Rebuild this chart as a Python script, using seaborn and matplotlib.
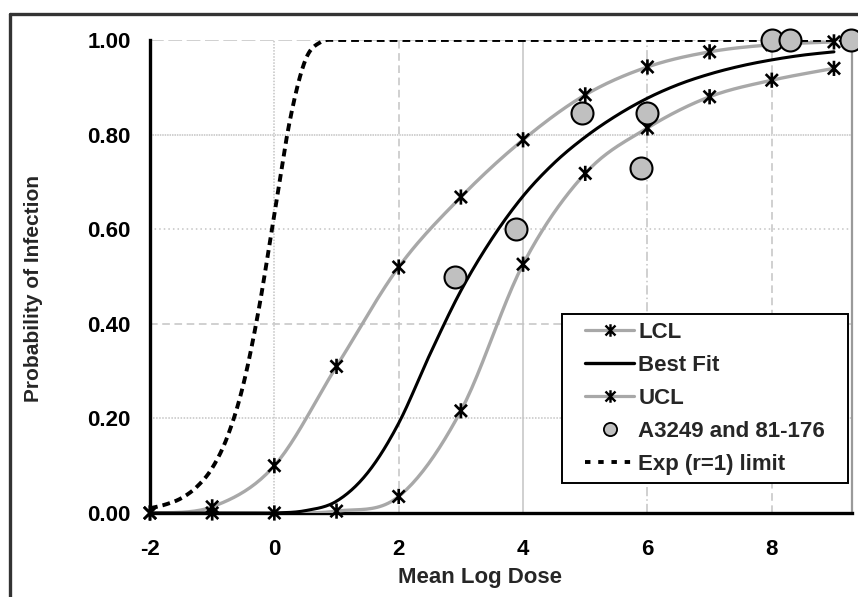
import numpy as np
import pandas as pd
import matplotlib
matplotlib.use("Agg")
import matplotlib.pyplot as plt
from matplotlib.path import Path
from matplotlib.lines import Line2D
from matplotlib.patches import Rectangle
from matplotlib.transforms import IdentityTransform
import seaborn as sns

# ---------------- data ----------------
dose_int = [-2, -1, 0, 1, 2, 3, 4, 5, 6, 7, 8, 9]
lcl_vals = [0.0, 0.013, 0.10, 0.31, 0.52, 0.668, 0.789, 0.884, 0.943, 0.975, 0.99, 0.996]
ucl_vals = [0.0, 0.0, 0.0, 0.004, 0.035, 0.216, 0.526, 0.718, 0.814, 0.880, 0.915, 0.940]

fit_x = [-2, -1.5, -1, -0.5, 0, 0.5, 1, 1.5, 2, 2.5, 3, 3.5, 4, 4.5, 5, 5.5, 6, 6.5, 7,
         7.5, 8, 8.5, 9]
fit_y = [0.0, 0.0, 0.0, 0.0, 0.0, 0.005, 0.025, 0.085, 0.19, 0.335, 0.47, 0.58, 0.67,
         0.74, 0.795, 0.84, 0.877, 0.906, 0.928, 0.945, 0.958, 0.968, 0.975]

exp_x = [-2, -1.75, -1.5, -1.25, -1, -0.75, -0.5, -0.25, 0, 0.25, 0.5, 0.75, 1.0]
exp_y = [0.01, 0.018, 0.031, 0.055, 0.095, 0.163, 0.271, 0.431, 0.632, 0.83, 0.958, 0.996, 1.0]
exp_flat_x = [1.0, 9.3]
exp_flat_y = [1.0, 1.0]

obs_x = [2.9, 3.88, 4.95, 5.9, 6.0, 8.0, 8.29, 9.27]
obs_y = [0.50, 0.60, 0.845, 0.729, 0.846, 1.0, 1.0, 1.0]

x_ticks = [-2, 0, 2, 4, 6, 8]
y_ticks = [0.0, 0.2, 0.4, 0.6, 0.8, 1.0]
y_tick_labels = ["0.00", "0.20", "0.40", "0.60", "0.80", "1.00"]

labels = ["LCL", "Best Fit", "UCL", "A3249 and 81-176", "Exp (r=1) limit"]
x_label = "Mean Log Dose"
y_label = "Probability of Infection"


def excel_smooth(x, y, n=24):
    """Render a polyline the way a spreadsheet 'smoothed line' does (Bezier through points)."""
    p = np.column_stack([x, y]).astype(float)
    out = [p[0]]
    for i in range(len(p) - 1):
        p0 = p[i - 1] if i > 0 else p[i]
        p1 = p[i]
        p2 = p[i + 1]
        p3 = p[i + 2] if i + 2 < len(p) else p[i + 1]
        c1 = p1 + (p2 - p0) / 6.0
        c2 = p2 - (p3 - p1) / 6.0
        t = np.linspace(0, 1, n)[1:, None]
        seg = ((1 - t) ** 3) * p1 + 3 * ((1 - t) ** 2) * t * c1 + 3 * (1 - t) * t ** 2 * c2 + t ** 3 * p2
        out.extend(seg)
    out = np.array(out)
    return out[:, 0], out[:, 1]


# ---------------- styling ----------------
sns.set_theme(style="white")
plt.rcParams["font.family"] = ["Liberation Sans", "DejaVu Sans"]
plt.rcParams["font.weight"] = "bold"

GRAY = "#a8a8a8"
GRID = "#c4c4c4"
FS = 16

star = Path([(-1, -1), (1, 1), (-1, 1), (1, -1), (0, -1.25), (0, 1.25)],
            [Path.MOVETO, Path.LINETO, Path.MOVETO, Path.LINETO, Path.MOVETO, Path.LINETO])

fig = plt.figure(figsize=(8.58, 5.97), dpi=100)
ax = fig.add_axes([150 / 858, 1 - 513 / 597, 702 / 858, 473 / 597])

# curves
for vals in (lcl_vals, ucl_vals):
    sx, sy = excel_smooth(dose_int, vals)
    sns.lineplot(x=sx, y=sy, ax=ax, color=GRAY, lw=2.4, sort=False, estimator=None, zorder=3)
sx, sy = excel_smooth(fit_x, fit_y)
sns.lineplot(x=sx, y=sy, ax=ax, color="black", lw=2.2, sort=False, estimator=None, zorder=4)
sx, sy = excel_smooth(exp_x, exp_y)
sx = np.concatenate([sx, exp_flat_x[1:]])
sy = np.concatenate([sy, exp_flat_y[1:]])
sns.lineplot(x=sx, y=sy, ax=ax, color="black", lw=2.8, sort=False, estimator=None,
             linestyle=(0, (2.0, 1.3)), zorder=4)

# star markers
for vals in (lcl_vals, ucl_vals):
    ax.scatter(dose_int, vals, marker=star, s=120, facecolors="none", edgecolors="black",
               linewidths=1.9, zorder=5, clip_on=False)

# observations
sns.scatterplot(x=obs_x, y=obs_y, ax=ax, s=250, color="#c0c0c0", edgecolor="black",
                linewidth=1.5, zorder=6, clip_on=False, legend=False)

ax.set_xlim(-2, 9.29)
ax.set_ylim(0, 1)
ax.set_xticks(x_ticks)
ax.set_xticklabels([str(v) for v in x_ticks])
ax.set_yticks(y_ticks)
ax.set_yticklabels(y_tick_labels)
ax.tick_params(axis="both", labelsize=FS, colors="black", direction="out", length=5, width=2)
ax.tick_params(axis="x", pad=13, length=6)
ax.tick_params(axis="y", pad=9)
for lab in ax.get_xticklabels() + ax.get_yticklabels():
    lab.set_fontweight("bold")

# grid with the mixed styles seen in the reference
ax.grid(True, color=GRID, lw=1.1)
x_styles = ["-", (0, (1, 1)), (0, (5, 3)), "-", (0, (6, 2, 1, 2)), (0, (5, 3))]
for gl, ls in zip(ax.get_xgridlines(), x_styles):
    gl.set_linestyle(ls)
y_styles = ["-", (0, (1, 1)), (0, (5, 3)), (0, (1, 2)), (0, (1, 0.6)), (0, (9, 3))]
for gl, ls in zip(ax.get_ygridlines(), y_styles):
    gl.set_linestyle(ls)
ax.set_axisbelow(True)

for side in ("left", "bottom"):
    ax.spines[side].set_color("black")
    ax.spines[side].set_linewidth(2.4)
ax.spines["right"].set_color("#9a9a9a")
ax.spines["right"].set_linewidth(1.6)
ax.spines["top"].set_visible(False)

ax.set_xlabel(x_label, fontsize=FS, fontweight="bold")
ax.set_ylabel(y_label, fontsize=15, fontweight="bold")
ax.xaxis.set_label_coords(0.47, -0.115)
ax.yaxis.set_label_coords(-0.152, 0.474)

# legend
handles = [
    Line2D([], [], color=GRAY, lw=2.3, marker=star, markersize=9, markeredgecolor="black",
           markeredgewidth=1.7),
    Line2D([], [], color="black", lw=2.4),
    Line2D([], [], color=GRAY, lw=2.3, marker=star, markersize=9, markeredgecolor="black",
           markeredgewidth=1.7),
    Line2D([], [], ls="none", marker="o", markersize=9.5, markerfacecolor="#c0c0c0",
           markeredgecolor="black", markeredgewidth=1.3),
    Line2D([], [], color="black", lw=2.8, linestyle=(0, (1.4, 2.0))),
]
leg = ax.legend(handles, labels, loc="upper right", bbox_to_anchor=(0.973, 0.421),
                borderaxespad=0, frameon=False,
                handlelength=2.2, handletextpad=0.18, labelspacing=0.54, borderpad=0.36,
                prop={"weight": "bold", "size": FS})
leg.set_zorder(10)

# legend frame: wider side margins than the top/bottom ones, as in the reference
fig.canvas.draw()
bb = leg.get_window_extent()
side_extra = 15
frame = Rectangle((bb.x0 - side_extra, bb.y0), bb.width + 2 * side_extra, bb.height,
                  transform=IdentityTransform(), facecolor="white", edgecolor="black",
                  lw=1.4, zorder=9, clip_on=False)
ax.add_artist(frame)

# outer border of the original picture (top and left edges)
fig.add_artist(Line2D([10 / 858, 10 / 858], [0, 1 - 14 / 597], transform=fig.transFigure,
                      color="#333333", lw=2.4))
fig.add_artist(Line2D([10 / 858, 1], [1 - 14 / 597, 1 - 14 / 597], transform=fig.transFigure,
                      color="#333333", lw=2.4))

fig.savefig("out.png", dpi=100)
